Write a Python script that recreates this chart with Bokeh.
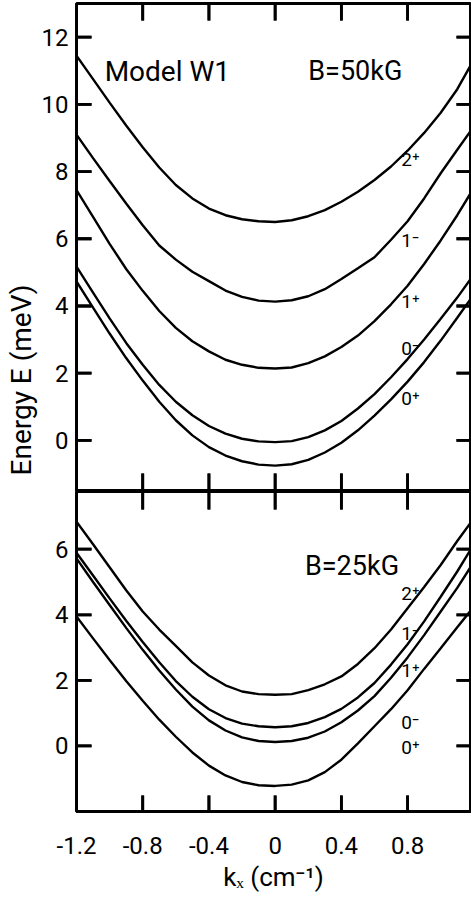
import math
from bokeh.plotting import figure
from bokeh.models import Range1d, LinearAxis, FixedTicker, Title
from bokeh.layouts import column
from bokeh.embed import file_html
from bokeh.resources import INLINE
from bokeh.core.properties import value

# ---------------- data ----------------
k = [-1.2, -1.1, -1.0, -0.9, -0.8, -0.7, -0.6, -0.5, -0.4, -0.3, -0.2, -0.1, 0.0,
     0.1, 0.2, 0.3, 0.4, 0.5, 0.6, 0.7, 0.8, 0.9, 1.0, 1.1, 1.18]

# B = 50 kG
b50_2p = [11.45, 10.75, 10.05, 9.37, 8.72, 8.12, 7.60, 7.20, 6.90, 6.70, 6.58, 6.52, 6.50,
          6.55, 6.67, 6.85, 7.10, 7.40, 7.75, 8.15, 8.62, 9.15, 9.75, 10.45, 11.15]
b50_1m = [9.10, 8.40, 7.72, 7.05, 6.40, 5.80, 5.38, 5.02, 4.74, 4.46, 4.27, 4.16, 4.13,
          4.17, 4.29, 4.50, 4.80, 5.12, 5.45, 5.97, 6.52, 7.20, 7.95, 8.65, 9.20]
b50_1p = [7.45, 6.65, 5.85, 5.10, 4.45, 3.85, 3.35, 2.95, 2.65, 2.40, 2.25, 2.16, 2.14,
          2.17, 2.30, 2.50, 2.78, 3.12, 3.55, 4.05, 4.60, 5.25, 5.95, 6.70, 7.35]
b50_0m = [5.17, 4.40, 3.63, 2.90, 2.25, 1.65, 1.15, 0.75, 0.43, 0.20, 0.05, -0.03, -0.05,
          -0.02, 0.10, 0.30, 0.58, 0.95, 1.38, 1.88, 2.42, 3.00, 3.62, 4.25, 4.80]
b50_0p = [4.73, 3.95, 3.18, 2.45, 1.78, 1.15, 0.60, 0.15, -0.20, -0.45, -0.62, -0.72, -0.75,
          -0.71, -0.58, -0.36, -0.07, 0.30, 0.74, 1.22, 1.75, 2.33, 2.97, 3.65, 4.20]

# B = 25 kG
b25_2p = [6.84, 6.15, 5.45, 4.75, 4.10, 3.55, 3.05, 2.55, 2.15, 1.85, 1.66, 1.58, 1.56,
          1.58, 1.70, 1.88, 2.12, 2.50, 2.98, 3.55, 4.20, 4.85, 5.52, 6.25, 6.80]
b25_1m = [5.89, 5.20, 4.50, 3.82, 3.17, 2.55, 1.98, 1.50, 1.12, 0.85, 0.68, 0.60, 0.57,
          0.60, 0.70, 0.88, 1.13, 1.48, 1.92, 2.48, 3.10, 3.80, 4.55, 5.32, 5.98]
b25_1p = [5.72, 5.00, 4.30, 3.60, 2.93, 2.30, 1.72, 1.20, 0.78, 0.47, 0.26, 0.15, 0.12,
          0.15, 0.25, 0.44, 0.72, 1.08, 1.52, 2.08, 2.70, 3.38, 4.10, 4.82, 5.45]
b25_0p = [3.95, 3.28, 2.62, 1.98, 1.38, 0.80, 0.28, -0.20, -0.60, -0.90, -1.10, -1.20, -1.22,
          -1.18, -1.05, -0.80, -0.42, 0.08, 0.60, 1.12, 1.70, 2.35, 2.98, 3.62, 4.12]

level_names = ["2⁺", "1⁻", "1⁺", "0⁻", "0⁺"]
x_ticks = [-1.2, -0.8, -0.4, 0.0, 0.4, 0.8]
x_tick_labels = ["-1.2", "-0.8", "-0.4", "0", "0.4", "0.8"]
top_y_ticks = [0, 2, 4, 6, 8, 10, 12]
bot_y_ticks = [0, 2, 4, 6]
inner_x_ticks = [-0.8, -0.4, 0.0, 0.4, 0.8]

# axis extents and frame sizes
X0, X1 = -1.2, 1.18
TOP_Y = (-1.52, 13.0)
BOT_Y = (-2.0, 7.76)
FRAME_W = 394
TOP_H = 488
BOT_H = 320

# ---------------- styling ----------------
FONT = "Roboto"
LW_AX = 2.8
LW_CURVE = 2.4


def make_fig(yr, frame_h, top_border, bottom_border):
    p = figure(frame_width=FRAME_W, frame_height=frame_h,
               x_range=Range1d(X0, X1), y_range=Range1d(*yr),
               x_axis_location=None, y_axis_location=None,
               output_backend="svg", toolbar_location=None,
               min_border_left=76, min_border_right=1,
               min_border_top=top_border, min_border_bottom=bottom_border)
    p.xgrid.visible = False
    p.ygrid.visible = False
    p.outline_line_color = "black"
    p.outline_line_width = LW_AX
    p.background_fill_color = "white"
    p.border_fill_color = "white"
    return p


def label_axis(ax):
    ax.major_tick_in = 0
    ax.major_tick_out = 0
    ax.minor_tick_in = 0
    ax.minor_tick_out = 0
    ax.axis_line_width = LW_AX
    ax.axis_line_color = "black"
    ax.major_label_text_font = FONT
    ax.major_label_text_font_size = "24px"
    ax.major_label_text_color = "black"


def frame_ticks(p, yr, frame_h, yticks, left_len, right_len, top_len, bottom_len):
    """Inward tick marks drawn as thin filled bars plus an edge-following path."""
    dx = (X1 - X0) / FRAME_W
    dy = (yr[1] - yr[0]) / frame_h
    hw_x = 0.5 * LW_AX * dx
    hw_y = 0.5 * LW_AX * dy
    L, R, T, B = [], [], [], []
    for t in yticks:
        L += [X0, X1 - right_len * dx]
        R += [X0 + left_len * dx, X1]
        B += [t - hw_y, t - hw_y]
        T += [t + hw_y, t + hw_y]
    for t in inner_x_ticks:
        L += [t - hw_x, t - hw_x]
        R += [t + hw_x, t + hw_x]
        B += [yr[1] - top_len * dy, yr[0]]
        T += [yr[1], yr[0] + bottom_len * dy]
    p.quad(left=L, right=R, bottom=B, top=T, fill_color="black", line_color=None)
    # the same ticks as one path per side, running along the edge
    for xe, sign, ln in ((X0, 1, left_len), (X1, -1, right_len)):
        px, py = [xe], [yr[0]]
        for t in yticks:
            px += [xe, xe + sign * ln * dx, xe]
            py += [t, t, t]
        px.append(xe)
        py.append(yr[1])
        p.line(px, py, line_color="black", line_width=LW_AX,
               line_join="bevel", line_cap="butt")
    for ye, sign, ln in ((yr[1], -1, top_len), (yr[0], 1, bottom_len)):
        px, py = [X0], [ye]
        for t in inner_x_ticks:
            px += [t, t, t]
            py += [ye, ye + sign * ln * dy, ye]
        px.append(X1)
        py.append(ye)
        p.line(px, py, line_color="black", line_width=LW_AX,
               line_join="bevel", line_cap="butt")


# ---------------- top panel: B = 50 kG ----------------
top = make_fig(TOP_Y, TOP_H, 3, 0)

ax = LinearAxis(ticker=FixedTicker(ticks=top_y_ticks))
label_axis(ax)
ax.major_label_standoff = 8
top.add_layout(ax, "left")

top.add_layout(Title(text="Energy E (meV)", align="left", offset=16,
                     standoff=2, text_font=FONT, text_font_size="28px",
                     text_font_style="normal", text_color="black"), "left")

for ys in (b50_2p, b50_1m, b50_1p, b50_0m, b50_0p):
    top.line(k, ys, line_color="black", line_width=LW_CURVE)

frame_ticks(top, TOP_Y, TOP_H, top_y_ticks, 15, 14, 17, 18)

top.text(x=[-1.03], y=[10.99], text=["Model W1"], text_font=value(FONT),
         text_font_size="28px", text_baseline="middle", text_align="left",
         text_color="black")
top.text(x=[0.20], y=[10.99], text=["B=50kG"], text_font=value(FONT),
         text_font_size="27px", text_baseline="middle", text_align="left",
         text_color="black")
top.text(x=[0.762] * 5, y=[8.36, 5.94, 4.12, 2.72, 1.25], text=level_names,
         text_font=value(FONT), text_font_size="19px", text_baseline="middle",
         text_align="left", text_color="black")

# ---------------- bottom panel: B = 25 kG ----------------
bot = make_fig(BOT_Y, BOT_H, 0, 91)

ax = LinearAxis(ticker=FixedTicker(ticks=bot_y_ticks))
label_axis(ax)
ax.major_label_standoff = 8
bot.add_layout(ax, "left")

ax = LinearAxis(ticker=FixedTicker(ticks=x_ticks))
label_axis(ax)
ax.major_label_standoff = 25
ax.major_label_overrides = {t: s for t, s in zip(x_ticks, x_tick_labels)}
ax.axis_label = "kₓ (cm⁻¹)"
ax.axis_label_text_font = FONT
ax.axis_label_text_font_size = "26px"
ax.axis_label_text_font_style = "normal"
ax.axis_label_text_color = "black"
ax.axis_label_standoff = 5
bot.add_layout(ax, "below")

for ys in (b25_2p, b25_1m, b25_1p, b25_0p):
    bot.line(k, ys, line_color="black", line_width=LW_CURVE)

frame_ticks(bot, BOT_Y, BOT_H, bot_y_ticks, 15, 14, 18, 16)

bot.text(x=[0.18], y=[5.49], text=["B=25kG"], text_font=value(FONT),
         text_font_size="27px", text_baseline="middle", text_align="left",
         text_color="black")
bot.text(x=[0.762] * 5, y=[4.66, 3.43, 2.30, 0.72, -0.06], text=level_names,
         text_font=value(FONT), text_font_size="19px", text_baseline="middle",
         text_align="left", text_color="black")

layout = column(top, bot, spacing=0)
open("out.html", "w").write(file_html(layout, INLINE))
